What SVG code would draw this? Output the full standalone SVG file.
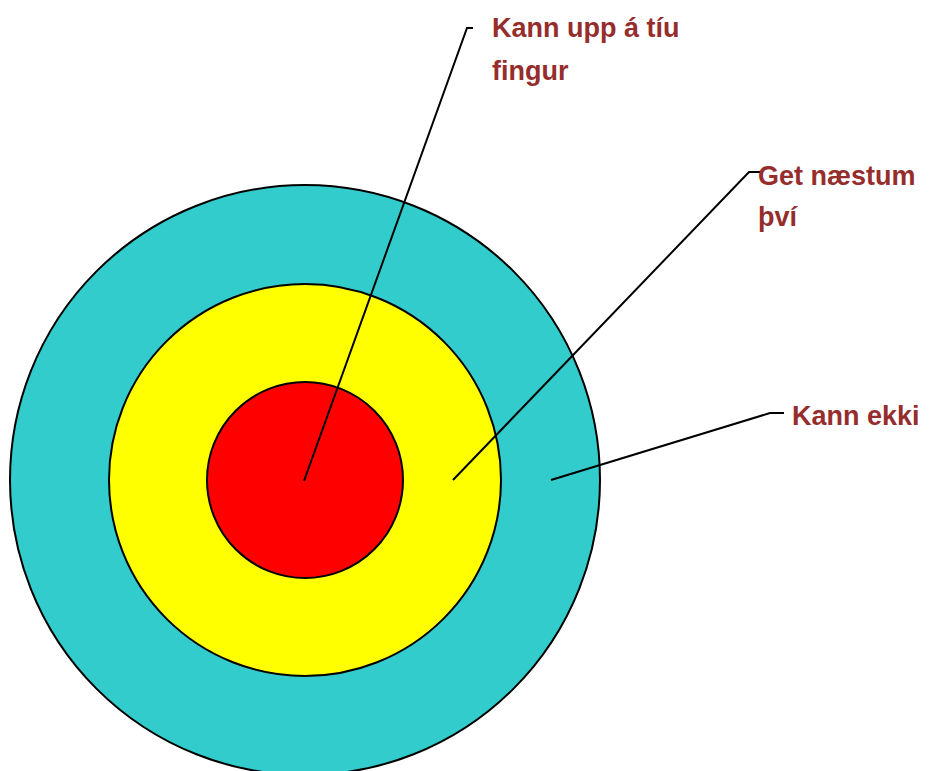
<svg xmlns="http://www.w3.org/2000/svg" width="932" height="771" viewBox="0 0 932 771">
<style>
.ring{stroke:#000;stroke-width:2}
.lead{fill:none;stroke:#000;stroke-width:2}
.lbl{font-family:"Liberation Sans",Arial,sans-serif;font-size:27px;font-weight:bold;fill:#962D2D}
</style>
<rect width="932" height="771" fill="#fff"/>
<g id="outer"><circle class="ring" cx="305" cy="480" r="295" fill="#33CCCC"/></g>
<g id="middle"><circle class="ring" cx="305" cy="480" r="196" fill="#FFFF00"/></g>
<g id="inner"><circle class="ring" cx="305" cy="480" r="98" fill="#FF0000"/></g>
<g id="connectors">
<polyline class="lead" points="304,481 467,28 473,28"/>
<polyline class="lead" points="453,480 749,172 760,172"/>
<polyline class="lead" points="551,480 770,413 784,413"/>
</g>
<g id="label-inner"><text class="lbl" x="492" y="37">Kann upp á tíu</text><text class="lbl" x="492" y="80">fingur</text></g>
<g id="label-middle"><text class="lbl" x="758" y="185">Get næstum</text><text class="lbl" x="758" y="226">því</text></g>
<g id="label-outer"><text class="lbl" x="792" y="425">Kann ekki</text></g>
</svg>
